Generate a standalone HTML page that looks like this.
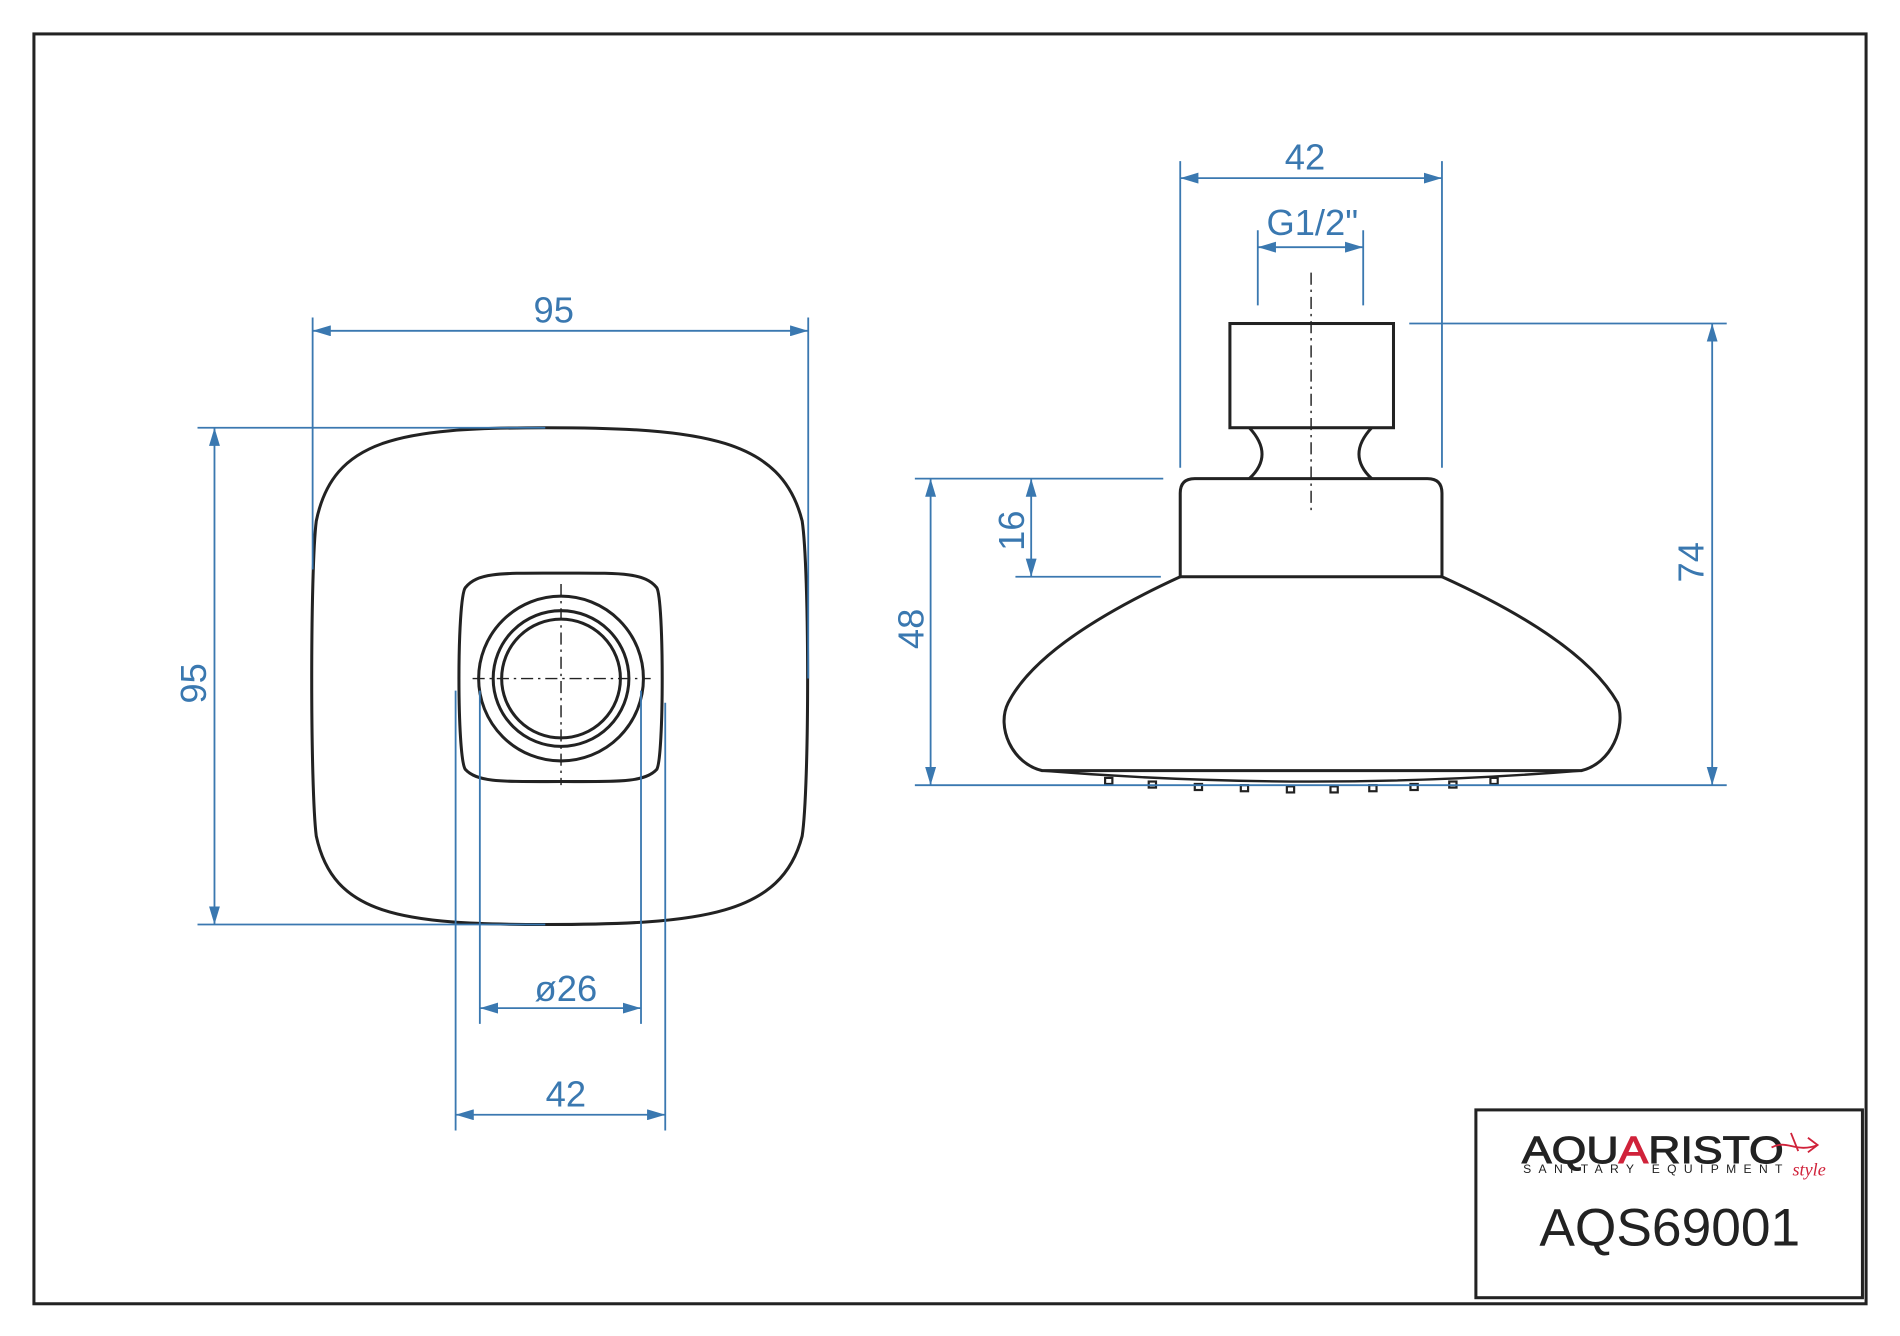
<!DOCTYPE html>
<html><head><meta charset="utf-8"><style>html,body{margin:0;padding:0;background:#fff}svg{display:block}</style></head>
<body>
<svg width="1900" height="1336" viewBox="0 0 1568 1102.6" preserveAspectRatio="none" xmlns="http://www.w3.org/2000/svg">
<defs>
<marker id="a" viewBox="0 0 15 9" refX="15" refY="4.5" markerWidth="15" markerHeight="9" markerUnits="userSpaceOnUse" orient="auto-start-reverse"><path d="M0,0L15,4.5L0,9z" fill="#3a78b0"/></marker>
</defs>
<rect width="1568" height="1103" fill="#fff"/>
<rect x="28" y="28" width="1512" height="1048" fill="none" stroke="#222" stroke-width="2.5"/>
<rect x="1218" y="916" width="319" height="155" fill="none" stroke="#222" stroke-width="2.5"/>

<g fill="none" stroke="#222" stroke-width="2.5">
<path d="M450,353 C580,353 645,362 662,430 C668,470 668,650 662,690 C645,755 580,763 450,763 C330,763 275,755 261,690 C256,650 256,470 261,430 C275,362 330,353 450,353 Z"/>
<path d="M463,473 C510,473 532,472 542,485 C548,495 548,625 542,635 C532,646 510,645 463,645 C415,645 394,646 384,635 C377,625 377,495 384,485 C394,472 415,473 463,473 Z"/>
<circle cx="463" cy="560" r="68"/>
<circle cx="463" cy="560" r="56"/>
<circle cx="463" cy="560" r="49"/>
<rect x="1015" y="267" width="135" height="86"/>
<path d="M1031,353 C1045,368 1045,382 1031,395 M1132,353 C1118,368 1118,382 1132,395"/>
<path d="M974,476 L974,407 Q974,395 986,395 L1178,395 Q1190,395 1190,407 L1190,476 Z"/>
<path d="M974,476 C900,510 850,545 832,580 C822,600 835,630 860,636 L1305,636 C1330,630 1342,600 1335,580 C1315,545 1265,510 1190,476"/>
<path d="M860,636 Q1082,654 1305,636" stroke-width="2"/>
</g>
<g fill="none" stroke="#222" stroke-width="1.8">
<rect x="912" y="642" width="6" height="5"/><rect x="948" y="645" width="6" height="5"/><rect x="986" y="647" width="6" height="5"/><rect x="1024" y="648" width="6" height="5"/><rect x="1062" y="649" width="6" height="5"/><rect x="1098" y="649" width="6" height="5"/><rect x="1130" y="648" width="6" height="5"/><rect x="1164" y="647" width="6" height="5"/><rect x="1196" y="645" width="6" height="5"/><rect x="1230" y="642" width="6" height="5"/>
</g>
<g stroke="#222" stroke-width="1.2" stroke-dasharray="10,4,2,4">
<line x1="463" y1="482" x2="463" y2="648"/>
<line x1="390" y1="560" x2="537" y2="560"/>
<line x1="1082" y1="225" x2="1082" y2="422"/>
</g>

<g stroke="#3a78b0" stroke-width="1.5" fill="none">
<line x1="258" y1="262" x2="258" y2="470"/><line x1="667" y1="262" x2="667" y2="560"/>
<line x1="258" y1="273" x2="667" y2="273" marker-start="url(#a)" marker-end="url(#a)"/>
<line x1="163" y1="353" x2="450" y2="353"/><line x1="163" y1="763" x2="450" y2="763"/>
<line x1="177" y1="353" x2="177" y2="763" marker-start="url(#a)" marker-end="url(#a)"/>
<line x1="396" y1="570" x2="396" y2="845"/><line x1="529" y1="570" x2="529" y2="845"/>
<line x1="396" y1="832" x2="529" y2="832" marker-start="url(#a)" marker-end="url(#a)"/>
<line x1="376" y1="570" x2="376" y2="933"/><line x1="549" y1="580" x2="549" y2="933"/>
<line x1="376" y1="920" x2="549" y2="920" marker-start="url(#a)" marker-end="url(#a)"/>
<line x1="974" y1="133" x2="974" y2="386"/><line x1="1190" y1="133" x2="1190" y2="386"/>
<line x1="974" y1="147" x2="1190" y2="147" marker-start="url(#a)" marker-end="url(#a)"/>
<line x1="1038" y1="190" x2="1038" y2="252"/><line x1="1125" y1="190" x2="1125" y2="252"/>
<line x1="1038" y1="204" x2="1125" y2="204" marker-start="url(#a)" marker-end="url(#a)"/>
<line x1="1163" y1="267" x2="1425" y2="267"/><line x1="755" y1="648" x2="1425" y2="648"/>
<line x1="1413" y1="267" x2="1413" y2="648" marker-start="url(#a)" marker-end="url(#a)"/>
<line x1="755" y1="395" x2="960" y2="395"/><line x1="838" y1="476" x2="958" y2="476"/>
<line x1="768" y1="395" x2="768" y2="648" marker-start="url(#a)" marker-end="url(#a)"/>
<line x1="851" y1="395" x2="851" y2="476" marker-start="url(#a)" marker-end="url(#a)"/>
</g>
<g fill="#3a78b0" font-family="Liberation Sans, sans-serif" font-size="30" text-anchor="middle">
<text x="457" y="266">95</text>
<text x="467" y="826">ø26</text>
<text x="467" y="913">42</text>
<text x="1077" y="140">42</text>
<text x="1083" y="194">G1/2"</text>
<text transform="translate(170,564) rotate(-90)">95</text>
<text transform="translate(762,519) rotate(-90)">48</text>
<text transform="translate(845,438) rotate(-90)">16</text>
<text transform="translate(1406,464) rotate(-90)">74</text>
</g>
<g font-family="Liberation Sans, sans-serif" text-anchor="middle">
<text x="1364" y="960" font-size="31" fill="#222" stroke="#222" stroke-width="0.8" textLength="216" lengthAdjust="spacingAndGlyphs">AQU<tspan fill="#d0223a" stroke="#d0223a">A</tspan>RISTO</text>
<text x="1364" y="968" font-size="10" fill="#222" textLength="214" lengthAdjust="spacing">SANITARY EQUIPMENT</text>
<text x="1493" y="970" font-size="15" fill="#d0223a" font-style="italic" font-family="Liberation Serif, serif">style</text>
<path d="M1462,947 C1475,940 1482,952 1500,945 M1478,935 L1484,950 M1492,939 L1500,945 L1492,951" stroke="#d0223a" stroke-width="1.5" fill="none"/>
<text x="1378" y="1028" font-size="44" fill="#222">AQS69001</text>
</g>
</svg>
</body></html>
